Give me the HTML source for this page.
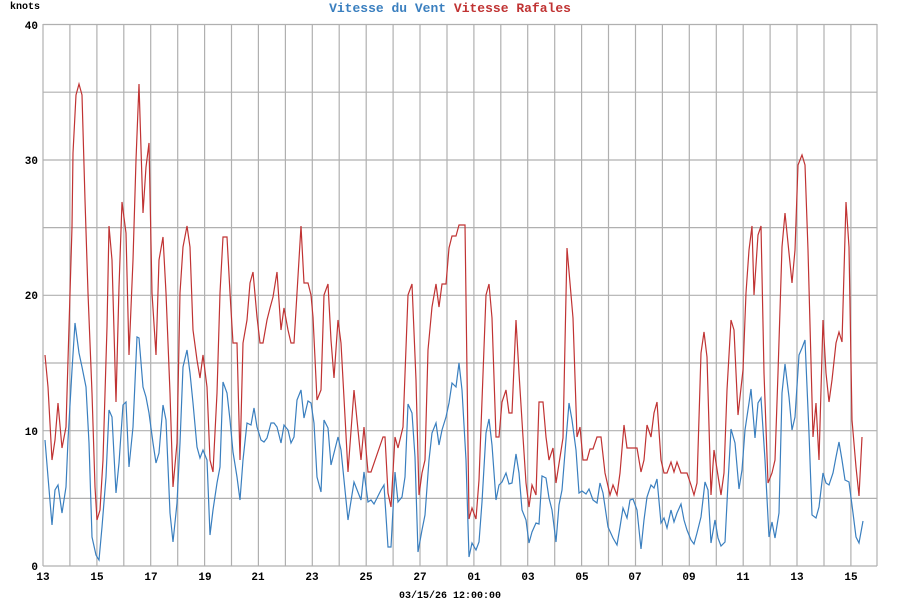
<!DOCTYPE html>
<html><head><meta charset="utf-8"><style>
html,body{margin:0;padding:0;background:#fff;}
svg text{font-family:"Liberation Mono",monospace;font-weight:bold;}
</style></head><body>
<svg width="900" height="600" xmlns="http://www.w3.org/2000/svg">
<rect width="900" height="600" fill="#fff"/>
<text x="450" y="12" font-size="13" text-anchor="middle"><tspan fill="#3a7fbf">Vitesse du Vent</tspan> <tspan fill="#c03333">Vitesse Rafales</tspan></text>
<text x="10" y="9" font-size="10" fill="#000">knots</text>
<g stroke="#b0b0b0" stroke-width="1.2" fill="none">
<path d="M43,24.5H877M43,92.2H877M43,160H877M43,227.6H877M43,295.3H877M43,363H877M43,430.7H877M43,498.4H877M43,566H877"/>
<path id="vg" d="M43,24V566M69.9,24V566M96.9,24V566M123.8,24V566M150.7,24V566M177.7,24V566M204.6,24V566M231.5,24V566M258.4,24V566M285.4,24V566M312.3,24V566M339.2,24V566M366.2,24V566M393.1,24V566M420,24V566M447,24V566M473.9,24V566M500.8,24V566M527.7,24V566M554.7,24V566M581.6,24V566M608.5,24V566M635.5,24V566M662.4,24V566M689.3,24V566M716.3,24V566M743.2,24V566M770.1,24V566M797,24V566M824,24V566M850.9,24V566M877,24V566"/>
</g>
<g font-size="11" fill="#000" text-anchor="end">
<text x="38" y="29">40</text><text x="38" y="164">30</text><text x="38" y="299">20</text><text x="38" y="435">10</text><text x="38" y="570">0</text>
</g>
<g font-size="11" fill="#000" text-anchor="middle">
<text x="43" y="580">13</text><text x="97" y="580">15</text><text x="151" y="580">17</text><text x="205" y="580">19</text><text x="258" y="580">21</text><text x="312" y="580">23</text><text x="366" y="580">25</text><text x="420" y="580">27</text><text x="474" y="580">01</text><text x="528" y="580">03</text><text x="582" y="580">05</text><text x="635" y="580">07</text><text x="689" y="580">09</text><text x="743" y="580">11</text><text x="797" y="580">13</text><text x="851" y="580">15</text>
<text x="450" y="598" font-size="10">03/15/26 12:00:00</text>
</g>
<polyline fill="none" stroke="#c03333" stroke-width="1.2" points="45,355 48,387 52,460 55,440 58,403 62,448 66,427 68,360 72,227 73,153 76,95 79,84 82,95 85,200 88,293 92,393 95,487 97,520 100,510 103,460 107,327 109,226 112,260 116,402 119,287 122,202 126,233 129,355 133,260 136,160 139,84 143,213 146,167 149,143 152,293 156,355 159,260 163,237 166,293 170,393 173,487 177,443 180,293 183,247 187,226 190,247 193,330 197,360 200,378 203,355 207,387 210,460 213,472 217,393 220,293 223,237 227,237 230,293 233,343 237,343 240,460 243,343 247,320 250,283 253,272 257,317 260,343 263,343 267,320 270,308 273,297 277,272 281,330 284,308 288,330 291,343 294,343 297,293 301,226 304,283 308,283 311,295 313,317 317,400 321,390 324,295 328,284 331,340 334,378 338,320 341,343 348,472 354,390 361,460 364,427 368,472 371,472 383,437 385,437 388,493 391,507 395,437 398,448 403,427 408,295 412,284 416,380 419,495 422,473 425,460 428,350 432,307 436,284 439,307 442,284 446,284 449,248 452,236 456,236 459,225 465,225 469,519 472,508 476,519 479,480 486,295 489,284 492,318 496,437 499,437 502,402 506,390 509,413 512,413 516,320 519,373 523,437 526,483 529,507 532,485 536,495 539,402 543,402 546,437 549,460 553,448 556,483 563,438 567,248 573,318 577,437 580,427 583,460 587,460 590,449 593,449 597,437 601,437 605,473 610,495 613,485 617,495 620,473 624,425 627,448 637,448 641,472 644,460 647,425 651,437 654,413 657,402 661,460 664,473 667,473 671,462 674,472 677,462 681,473 687,473 691,485 694,495 697,483 701,353 704,332 707,357 711,495 714,450 721,495 724,473 727,390 731,320 734,330 738,415 743,370 746,293 749,250 752,226 754,295 758,235 761,226 764,373 768,483 772,473 775,460 778,373 782,247 785,213 792,283 795,250 798,165 802,155 805,165 808,250 813,437 816,403 819,460 823,320 826,373 829,402 832,380 836,343 839,332 842,342 846,202 849,247 852,420 856,467 859,496 862,437"/>
<polyline fill="none" stroke="#3a7fbf" stroke-width="1.2" points="45,440 48,477 52,525 55,490 58,485 62,513 66,487 68,440 72,370 75,323 79,353 82,367 86,387 89,443 92,537 96,555 99,560 102,527 106,477 109,410 112,417 116,493 119,463 123,405 126,402 129,467 133,427 137,337 139,338 143,387 146,397 149,413 153,443 156,463 159,453 163,405 166,420 170,513 173,542 177,503 180,443 183,367 187,350 190,373 193,403 197,447 200,458 203,450 207,460 210,535 213,510 217,483 220,467 223,382 227,393 230,420 233,452 237,477 240,500 243,460 247,423 251,425 254,408 257,427 261,440 264,442 267,438 271,423 274,423 277,427 281,443 284,425 288,430 291,443 294,437 297,400 301,390 304,418 308,401 311,403 314,423 317,477 321,492 324,420 328,428 331,465 334,453 338,437 341,450 348,520 354,482 361,500 364,472 368,502 371,500 374,504 381,490 384,485 388,547 391,547 395,472 398,502 402,497 405,477 408,404 412,413 415,457 418,552 422,530 425,515 429,460 432,433 436,423 439,445 442,430 446,417 449,403 452,383 456,387 459,363 462,390 466,460 469,557 472,543 476,550 479,542 482,502 486,433 489,419 492,445 496,500 499,485 502,482 506,473 509,484 512,483 516,454 519,473 522,510 526,520 529,543 532,532 536,523 539,524 542,476 546,478 549,498 552,510 556,542 559,505 562,490 566,440 569,403 572,420 576,450 579,493 582,491 586,494 589,489 593,500 597,503 600,483 603,493 608,527 613,538 617,545 620,527 623,508 627,518 630,500 633,499 637,510 641,549 644,520 647,497 651,485 654,488 657,479 661,523 664,518 667,528 671,510 674,522 677,513 681,504 684,520 687,530 691,540 694,544 697,533 701,517 705,482 708,490 711,543 715,520 718,538 721,546 725,542 728,483 731,429 735,443 739,489 742,470 745,430 749,403 751,389 755,438 758,403 761,398 765,460 769,537 772,522 775,538 779,513 782,393 785,364 789,397 792,430 795,417 799,355 802,348 805,340 809,433 812,515 816,518 819,507 823,473 826,483 829,485 833,473 836,457 839,442 842,460 845,480 849,482 853,513 856,537 859,543 863,521"/>
</svg>
</body></html>
